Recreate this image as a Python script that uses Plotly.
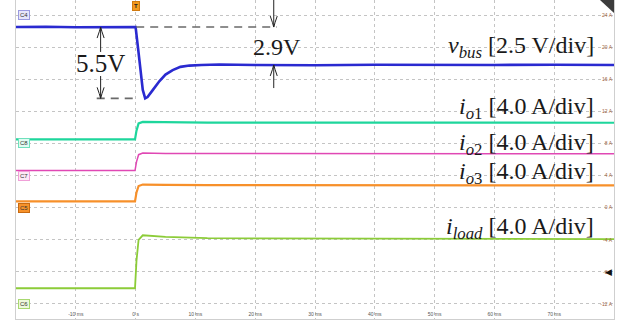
import plotly.graph_objects as go

# ---------------- data ----------------
# time in ms
t_vbus = [-20, -15, -10, -5, -0.1, 0.0, 0.4, 0.8, 1.2, 1.6, 2.0, 2.8, 4.0, 5.0, 6.2, 7.5, 9.0,
          11, 14, 20, 30, 40, 50, 60, 70, 80]
# bus voltage deviation from pre-step value, V  (2.5 V/div)
v_bus = [0.0, 0.02, -0.02, 0.0, 0.0, 0.0, -1.6, -3.4, -4.9, -5.55, -5.45, -4.95, -4.2, -3.7,
         -3.35, -3.1, -3.0, -2.95, -2.92, -2.95, -2.97, -2.93, -2.95, -2.95, -2.93, -2.95]

t_cur = [-20, -10, -0.1, 0.15, 0.5, 1.2, 2.5, 5, 12, 30, 50, 80]
# currents in A (4.0 A/div)
i_o1 = [0.5, 0.5, 0.5, 1.6, 2.5, 2.68, 2.66, 2.63, 2.6, 2.6, 2.58, 2.58]
i_o2 = [0.62, 0.62, 0.62, 1.7, 2.6, 2.8, 2.78, 2.76, 2.74, 2.74, 2.72, 2.72]
i_o3 = [0.78, 0.78, 0.78, 1.9, 2.7, 2.88, 2.86, 2.83, 2.81, 2.8, 2.78, 2.78]
i_load = [1.96, 1.96, 1.96, 5.4, 8.0, 8.56, 8.5, 8.35, 8.2, 8.15, 8.1, 8.08]

# screen levels (in right-axis units, 4 per division)
vbus_base = 22.5
ch_levels = [24, 8, 4, 0, -12]          # zero markers C4, C8, C7, C5, C6
ch_names = ["C4", "C8", "C7", "C5", "C6"]
ch_fill = ["#e6e6fa", "#e0fbf2", "#fde8f6", "#f7922a", "#eef8dd"]
ch_line = ["#9a9ae0", "#6fe0bc", "#f0a0d8", "#c86a10", "#a8d870"]

x_ticks = [-10, 0, 10, 20, 30, 40, 50, 60, 70]
x_text = ["-10 ms", "0 s", "10 ms", "20 ms", "30 ms", "40 ms", "50 ms", "60 ms", "70 ms"]
y_ticks = [24, 20, 16, 12, 8, 4, 0, -4, -8, -12]
y_text = ["24 A", "20 A", "16 A", "12 A", "8 A", "4 A", "0 A", "-4 A", "-8 A", "-12 A"]

vbus_scale = 2.5   # V/div
cur_scale = 4.0    # A/div
axis_div = 4.0     # axis units per division

# ---------------- figure ----------------
fig = go.Figure()

def disp(vals, level, scale):
    return [level + v / scale * axis_div for v in vals]

fig.add_trace(go.Scatter(x=t_vbus, y=disp(v_bus, vbus_base, vbus_scale), mode="lines",
                         line=dict(color="#2a2ad0", width=2.6), hoverinfo="skip"))
fig.add_trace(go.Scatter(x=t_cur, y=disp(i_o1, ch_levels[1], cur_scale), mode="lines",
                         line=dict(color="#1ed69c", width=2.2), hoverinfo="skip"))
fig.add_trace(go.Scatter(x=t_cur, y=disp(i_o2, ch_levels[2], cur_scale), mode="lines",
                         line=dict(color="#e048b4", width=1.5), hoverinfo="skip"))
fig.add_trace(go.Scatter(x=t_cur, y=disp(i_o3, ch_levels[3], cur_scale), mode="lines",
                         line=dict(color="#f7902a", width=2.2), hoverinfo="skip"))
fig.add_trace(go.Scatter(x=t_cur, y=disp(i_load, ch_levels[4], cur_scale), mode="lines",
                         line=dict(color="#8ccc38", width=1.8), hoverinfo="skip"))

grid_c = "#c4c4c4"
fig.update_layout(
    width=621, height=325,
    margin=dict(l=16, r=7, t=0, b=6),
    plot_bgcolor="white", paper_bgcolor="white",
    showlegend=False,
)
fig.update_xaxes(range=[-20, 80], tickvals=x_ticks, ticktext=x_text,
                 ticklabelposition="inside", ticks="",
                 showgrid=True, gridcolor=grid_c, griddash="dot", gridwidth=1,
                 showline=True, linecolor="#cfcfcf", linewidth=1, mirror=False,
                 zeroline=False, tickfont=dict(size=5, color="#555", family="Arial"))
fig.update_yaxes(range=[-13.87, 25.87], side="right", tickvals=y_ticks, ticktext=y_text,
                 ticklabelposition="inside", ticks="",
                 showgrid=True, gridcolor=grid_c, griddash="dot", gridwidth=1,
                 showline=True, linecolor="#cfcfcf", linewidth=1, mirror=True,
                 zeroline=False, tickfont=dict(size=5, color="#a0643c", family="Arial"))

# ---------------- annotation geometry derived from data ----------------
v_pre = disp([v_bus[0]], vbus_base, vbus_scale)[0]
v_min = disp([min(v_bus)], vbus_base, vbus_scale)[0]
v_fin = disp([v_bus[-1]], vbus_base, vbus_scale)[0]
t_a1 = -5.85   # 5.5 V arrow
t_a2 = 23.1    # 2.9 V arrow
ytop = 25.87

shapes = []
dash_line = dict(color="#6a6a6a", width=1.6, dash="8px,6px")
shapes.append(dict(type="line", xref="x", yref="y", x0=0.1, x1=23.6, y0=v_pre, y1=v_pre, line=dash_line))
shapes.append(dict(type="line", xref="x", yref="y", x0=-6.5, x1=0, y0=v_min, y1=v_min, line=dash_line))

arr = dict(color="#222", width=1)
# 5.5 V arrow segments
shapes.append(dict(type="line", xref="x", yref="y", x0=t_a1, x1=t_a1, y0=v_pre, y1=19.4, line=arr))
shapes.append(dict(type="line", xref="x", yref="y", x0=t_a1, x1=t_a1, y0=16.4, y1=v_min, line=arr))
# 2.9 V arrow segments
shapes.append(dict(type="line", xref="x", yref="y", x0=t_a2, x1=t_a2, y0=ytop, y1=v_pre, line=arr))
shapes.append(dict(type="line", xref="x", yref="y", x0=t_a2, x1=t_a2, y0=14.9, y1=v_fin, line=arr))

def head(t, y, up):
    s = 1 if up else -1
    return dict(type="path", xref="x", yref="y", xsizemode="pixel", ysizemode="pixel",
                xanchor=t, yanchor=y,
                path=f"M -3.5,{-11*s} Q -1,{-4*s} 0,0 Q 1,{-4*s} 3.5,{-11*s}",
                line=dict(color="#222", width=1))

shapes.append(head(t_a1, v_pre, True))
shapes.append(head(t_a1, v_min, False))
shapes.append(head(t_a2, v_pre, False))
shapes.append(head(t_a2, v_fin, True))

# top-right corner triangle
shapes.append(dict(type="path", xref="paper", yref="paper",
                   path="M 0.9766,1 L 1,1 L 1,0.959 Z", fillcolor="#3c3c3c", line=dict(width=0)))
fig.update_layout(shapes=shapes)

ann = []
font_txt = dict(family="Liberation Serif", size=24, color="#1a1a1a")
ann.append(dict(x=t_a1, y=17.9, xref="x", yref="y", text="5.5V", showarrow=False,
                font=dict(family="Liberation Serif", size=25, color="#1a1a1a"),
                xanchor="center", yanchor="middle"))
ann.append(dict(x=23.7, y=20.0, xref="x", yref="y", text="2.9V", showarrow=False,
                font=dict(family="Liberation Serif", size=24, color="#1a1a1a"),
                xanchor="center", yanchor="middle"))

lab_x = 0.963
labels = [
    ("<i>v</i><sub><i>bus</i></sub> [2.5 V/div]", 20.0),
    ("<i>i</i><sub><i>o</i>1</sub> [4.0 A/div]", 12.4),
    ("<i>i</i><sub><i>o</i>2</sub> [4.0 A/div]", 7.9),
    ("<i>i</i><sub><i>o</i>3</sub> [4.0 A/div]", 4.3),
    ("<i>i</i><sub><i>load</i></sub> [4.0 A/div]", -2.5),
]
for txt, yy in labels:
    ann.append(dict(x=lab_x, y=yy, xref="paper", yref="y", text=txt, showarrow=False,
                    font=font_txt, xanchor="right", yanchor="middle", xshift=4))

# channel markers
for name, lev, fc, lc in zip(ch_names, ch_levels, ch_fill, ch_line):
    ann.append(dict(x=0, y=lev, xref="paper", yref="y", text=name, showarrow=False,
                    xanchor="left", yanchor="middle", xshift=2,
                    font=dict(size=6, color="#333", family="Arial"),
                    bgcolor=fc, bordercolor=lc, borderwidth=1, borderpad=1))

# trigger marker
ann.append(dict(x=0, y=1, xref="x", yref="paper", text="<b>T</b>", showarrow=False,
                xanchor="center", yanchor="top", yshift=-1,
                font=dict(size=6, color="#222", family="Arial"),
                bgcolor="#f39a1e", bordercolor="#d07a10", borderwidth=1, borderpad=1))

# right-side level arrow
ann.append(dict(x=1, y=-8, xref="paper", yref="y", text="◀", showarrow=False,
                xanchor="right", yanchor="middle", xshift=0,
                font=dict(size=9, color="#111", family="DejaVu Sans")))

fig.update_layout(annotations=ann)

fig.write_html("out.html")
